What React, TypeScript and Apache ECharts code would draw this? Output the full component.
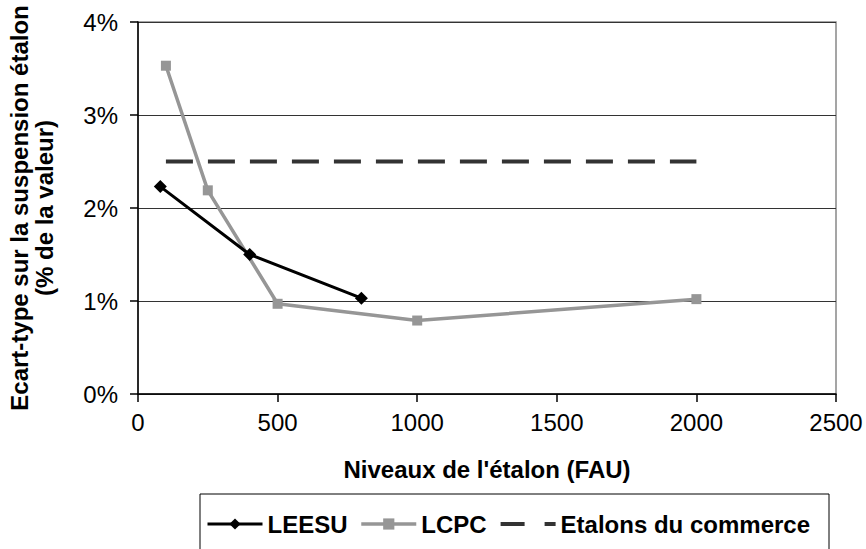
import React, { useEffect, useRef } from "react";
import * as echarts from "echarts";

const leesuX = [80, 400, 800];
const leesuY = [2.23, 1.5, 1.03];
const lcpcX = [100, 250, 500, 1000, 2000];
const lcpcY = [3.53, 2.19, 0.97, 0.79, 1.02];
const commerceX = [100, 2000];
const commerceY = [2.5, 2.5];
const seriesNames = ["LEESU", "LCPC", "Etalons du commerce"];
const xTitle = "Niveaux de l'étalon (FAU)";
const yTitle = "Ecart-type sur la suspension étalon\n(% de la valeur)";

const FONT = "'Liberation Sans', Arial, sans-serif";

export default function App() {
  const ref = useRef<HTMLDivElement>(null);
  useEffect(() => {
    const chart = echarts.init(ref.current!, null, { renderer: "svg" });
    const zip = (xs: number[], ys: number[]) => xs.map((x, i) => [x, ys[i]]);
    chart.setOption({
      animation: false,
      backgroundColor: "#fff",
      textStyle: { fontFamily: FONT },
      grid: {
        left: 138,
        right: 30,
        top: 22,
        bottom: 155,
        outerBoundsMode: "none",
        containLabel: false,
        show: true,
        borderColor: "#888",
        borderWidth: 1.5,
        backgroundColor: "transparent",
      },
      xAxis: {
        type: "value",
        min: 0,
        max: 2500,
        interval: 500,
        name: xTitle,
        nameLocation: "middle",
        nameGap: 63,
        nameTextStyle: { fontFamily: FONT, fontWeight: "bold", fontSize: 24, color: "#000" },
        axisLine: { show: true, onZero: false, lineStyle: { color: "#000", width: 1.5 } },
        axisTick: { show: true, length: 8, lineStyle: { color: "#000", width: 1.5 } },
        axisLabel: {
          fontFamily: FONT,
          fontSize: 24,
          color: "#000",
          margin: 16,
          formatter: (v: number) => String(v),
        },
        splitLine: { show: false },
      },
      yAxis: {
        type: "value",
        min: 0,
        max: 4,
        interval: 1,
        name: yTitle,
        nameLocation: "middle",
        nameRotate: 90,
        nameGap: 81,
        nameTextStyle: { fontFamily: FONT, fontWeight: "bold", fontSize: 24, color: "#000", lineHeight: 25 },
        axisLine: { show: true, lineStyle: { color: "#000", width: 1.5 } },
        axisTick: { show: true, length: 8, lineStyle: { color: "#000", width: 1.5 } },
        axisLabel: { fontFamily: FONT, fontSize: 24, color: "#000", margin: 20, formatter: "{value}%" },
        splitLine: { show: true, lineStyle: { color: "#333", width: 1 } },
      },
      legend: {
        left: 200,
        top: 494,
        orient: "horizontal",
        data: [
          { name: seriesNames[0], lineStyle: { width: 3 } },
          { name: seriesNames[1], lineStyle: { width: 3.5 } },
          { name: seriesNames[2], itemStyle: { opacity: 0 }, lineStyle: { width: 4, type: [24, 20] } },
        ],
        borderColor: "#000",
        borderWidth: 1,
        padding: [18, 19, 40, 6],
        itemGap: 12,
        itemWidth: 55,
        itemHeight: 14,
        textStyle: { fontFamily: FONT, fontWeight: "bold", fontSize: 24, color: "#000" },
      },
      series: [
        {
          name: seriesNames[0],
          type: "line",
          data: zip(leesuX, leesuY),
          symbol: "diamond",
          symbolSize: 13,
          color: "#000",
          lineStyle: { color: "#000", width: 3 },
          itemStyle: { color: "#000" },
          z: 4,
        },
        {
          name: seriesNames[1],
          type: "line",
          data: zip(lcpcX, lcpcY),
          symbol: "rect",
          symbolSize: 10,
          color: "#969696",
          lineStyle: { color: "#969696", width: 3.5 },
          itemStyle: { color: "#969696" },
          z: 3,
        },
        {
          name: seriesNames[2],
          type: "line",
          data: zip(commerceX, commerceY),
          symbol: "none",
          color: "#333",
          lineStyle: { color: "#333", width: 4, type: [27, 15] },
          z: 2,
        },
      ],
    });
    return () => chart.dispose();
  }, []);
  return <div ref={ref} style={{ width: 866, height: 549, position: "absolute", left: 0, top: 0 }} />;
}
